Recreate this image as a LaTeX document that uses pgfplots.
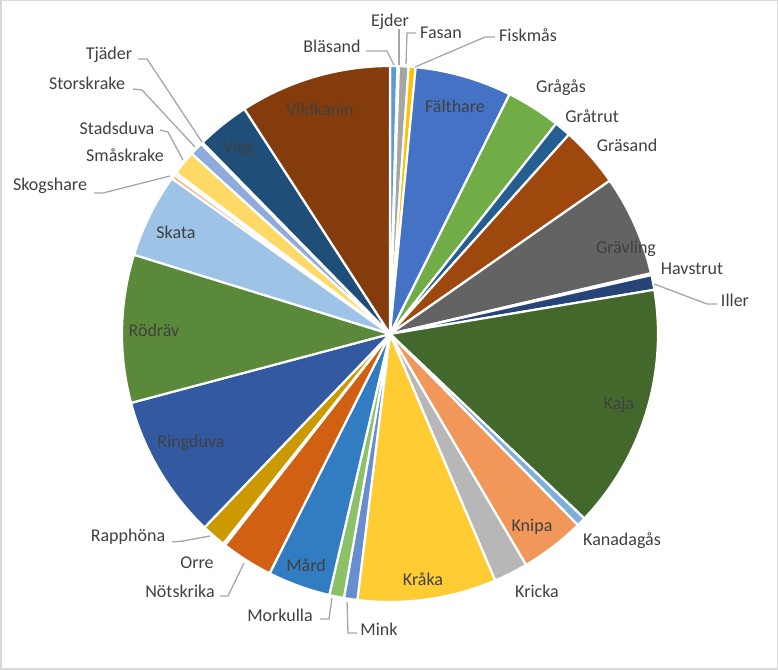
\documentclass[border=0pt]{standalone}
\usepackage{pgfplots}
\pgfplotsset{compat=1.18}
\usepackage{pgfplotstable}
\usepackage{fontspec}
\setmainfont{Carlito}
\definecolor{c1}{HTML}{5B9BD5}\definecolor{c2}{HTML}{ED7D31}\definecolor{c3}{HTML}{A5A5A5}
\definecolor{c4}{HTML}{FFC000}\definecolor{c5}{HTML}{4472C4}\definecolor{c6}{HTML}{70AD47}
\definecolor{c7}{HTML}{255E91}\definecolor{c8}{HTML}{9E480E}\definecolor{c9}{HTML}{636363}
\definecolor{c10}{HTML}{997300}\definecolor{c11}{HTML}{264478}\definecolor{c12}{HTML}{43682B}
\definecolor{c13}{HTML}{7CAFDD}\definecolor{c14}{HTML}{F1975A}\definecolor{c15}{HTML}{B7B7B7}
\definecolor{c16}{HTML}{FFCD33}\definecolor{c17}{HTML}{698ED0}\definecolor{c18}{HTML}{8CC168}
\definecolor{c19}{HTML}{327DC2}\definecolor{c20}{HTML}{D26012}\definecolor{c21}{HTML}{848484}
\definecolor{c22}{HTML}{CC9A00}\definecolor{c23}{HTML}{335AA1}\definecolor{c24}{HTML}{5A8A39}
\definecolor{c25}{HTML}{9DC3E6}\definecolor{c26}{HTML}{F4B183}\definecolor{c27}{HTML}{C9C9C9}
\definecolor{c28}{HTML}{FFD966}\definecolor{c29}{HTML}{8FAADC}\definecolor{c30}{HTML}{A9D18E}
\definecolor{c31}{HTML}{1F4E79}\definecolor{c32}{HTML}{843C0C}
\definecolor{labelgray}{HTML}{404040}
\definecolor{leadergray}{HTML}{A6A6A6}
\definecolor{framegray}{HTML}{D9D9D9}
% share of the circle, in degrees
\pgfplotstableread{
name value col
Bläsand 1.6 c1
Ejder 0.3 c2
Fasan 2.1 c3
Fiskmås 1.5 c4
Fälthare 21.0 c5
Grågås 11.8 c6
Gråtrut 3.6 c7
Gräsand 13.2 c8
Grävling 21.8 c9
Havstrut 0.4 c10
Iller 3.2 c11
Kaja 53.0 c12
Kanadagås 2.0 c13
Knipa 14.0 c14
Kricka 7.4 c15
Kråka 30.1 c16
Mink 2.9 c17
Morkulla 3.2 c18
Mård 13.6 c19
Nötskrika 11.3 c20
Orre 0.5 c21
Rapphöna 5.3 c22
Ringduva 31.3 c23
Rödräv 32.1 c24
Skata 18.3 c25
Skogshare 0.9 c26
Småskrake 0.6 c27
Stadsduva 5.3 c28
Storskrake 2.9 c29
Tjäder 0.4 c30
Vigg 11.5 c31
Vildkanin 32.9 c32
}\piedata
\begin{document}
\begin{tikzpicture}[
  lbl/.style={text=labelgray, font=\fontsize{18bp}{22bp}\selectfont, inner sep=0pt},
  leader/.style={draw=leadergray, line width=1.3bp}]
\begin{axis}[scale only axis, width=778bp, height=670bp,
  xmin=0, xmax=778, ymin=0, ymax=670, y dir=reverse,
  hide axis, clip=false]
\pgfplotsextra{%
  \gdef\cumang{0}%
  \foreach \i in {0,...,31}{%
    \pgfplotstablegetelem{\i}{value}\of\piedata \let\sv\pgfplotsretval
    \pgfplotstablegetelem{\i}{col}\of\piedata \let\scol\pgfplotsretval
    \pgfmathsetmacro\sa{90-\cumang}%
    \pgfmathsetmacro\se{90-\cumang-\sv}%
    \fill[fill=\scol, draw=white, line width=2.2bp, line join=round]
      (axis cs:390,334) -- ++(\sa:268bp) arc[start angle=\sa, end angle=\se, radius=268bp] -- cycle;
    \pgfmathsetmacro\nc{\cumang+\sv}%
    \xdef\cumang{\nc}%
  }%
}
% inside labels
\node[lbl] at (axis cs:455,106) {Fälthare};
\node[lbl] at (axis cs:626,249) {Grävling};
\node[lbl] at (axis cs:619,405) {Kaja};
\node[lbl] at (axis cs:532,527) {Knipa};
\node[lbl] at (axis cs:423,579) {Kråka};
\node[lbl] at (axis cs:306,565) {Mård};
\node[lbl] at (axis cs:191,443) {Ringduva};
\node[lbl] at (axis cs:154,330) {Rödräv};
\node[lbl] at (axis cs:176,232) {Skata};
\node[lbl] at (axis cs:239,148) {Vigg};
\node[lbl] at (axis cs:320,109) {Vildkanin};
% outside labels
\node[lbl] at (axis cs:332,46) {Bläsand};
\node[lbl] at (axis cs:390,22) {Ejder};
\node[lbl] at (axis cs:441,33) {Fasan};
\node[lbl] at (axis cs:528,35) {Fiskmås};
\node[lbl] at (axis cs:561,88) {Grågås};
\node[lbl] at (axis cs:592,116) {Gråtrut};
\node[lbl] at (axis cs:627,145) {Gräsand};
\node[lbl] at (axis cs:692,269) {Havstrut};
\node[lbl] at (axis cs:735,300) {Iller};
\node[lbl] at (axis cs:622,541) {Kanadagås};
\node[lbl] at (axis cs:537,591) {Kricka};
\node[lbl] at (axis cs:379,629) {Mink};
\node[lbl] at (axis cs:280,615) {Morkulla};
\node[lbl] at (axis cs:180,591) {Nötskrika};
\node[lbl] at (axis cs:197,563) {Orre};
\node[lbl] at (axis cs:128,537) {Rapphöna};
\node[lbl] at (axis cs:50,186) {Skogshare};
\node[lbl] at (axis cs:125,155) {Småskrake};
\node[lbl] at (axis cs:117,128) {Stadsduva};
\node[lbl] at (axis cs:87,83) {Storskrake};
\node[lbl] at (axis cs:109,55) {Tjäder};
% leader lines
\draw[leader] (axis cs:366,51) -- (axis cs:387,51) -- (axis cs:394,65);
\draw[leader] (axis cs:399,29) -- (axis cs:399,65);
\draw[leader] (axis cs:416,33) -- (axis cs:407,33) -- (axis cs:406,64);
\draw[leader] (axis cs:495,37) -- (axis cs:485,37) -- (axis cs:415,67);
\draw[leader] (axis cs:654,284) -- (axis cs:707,304) -- (axis cs:717,304);
\draw[leader] (axis cs:347,602) -- (axis cs:348,633) -- (axis cs:357,633);
\draw[leader] (axis cs:320,619) -- (axis cs:329,619) -- (axis cs:332,598);
\draw[leader] (axis cs:220,596) -- (axis cs:228,596) -- (axis cs:244,563);
\draw[leader] (axis cs:172,542) -- (axis cs:183,541) -- (axis cs:210,536);
\draw[leader] (axis cs:94,193) -- (axis cs:103,193) -- (axis cs:170,176);
\draw[leader] (axis cs:160,130) -- (axis cs:168,132) -- (axis cs:183,160);
\draw[leader] (axis cs:133,89) -- (axis cs:142,90) -- (axis cs:195,147);
\draw[leader] (axis cs:138,59) -- (axis cs:147,59) -- (axis cs:202,142);
% chart frame
\draw[framegray, line width=1.5bp] (axis cs:0.75,0.75) rectangle (axis cs:777.25,669.25);
\end{axis}
\end{tikzpicture}
\end{document}
